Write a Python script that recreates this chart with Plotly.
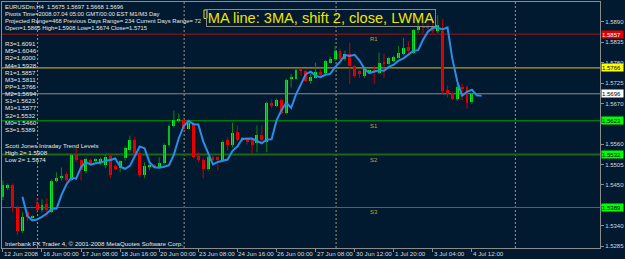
import plotly.graph_objects as go

# ---------------- data (EURUSDm, H4) ----------------
bar_index = list(range(97))
opens = [1.5417, 1.5441, 1.5449, 1.5387, 1.5325, 1.5376, 1.5363, 1.5401, 1.5382, 1.5398,
         1.5376, 1.5460, 1.5471, 1.5479, 1.5462, 1.5530, 1.5516, 1.5487, 1.5516, 1.5516,
         1.5508, 1.5503, 1.5527, 1.5500, 1.5495, 1.5522, 1.5543, 1.5570, 1.5535, 1.5476,
         1.5500, 1.5503, 1.5497, 1.5508, 1.5559, 1.5610, 1.5626, 1.5626, 1.5602, 1.5616,
         1.5527, 1.5516, 1.5492, 1.5524, 1.5524, 1.5516, 1.5570, 1.5557, 1.5592, 1.5573,
         1.5573, 1.5570, 1.5562, 1.5586, 1.5565, 1.5672, 1.5664, 1.5680, 1.5643, 1.5737,
         1.5737, 1.5764, 1.5758, 1.5731, 1.5739, 1.5756, 1.5753, 1.5780, 1.5791, 1.5812,
         1.5791, 1.5804, 1.5772, 1.5758, 1.5745, 1.5758, 1.5761, 1.5753, 1.5780, 1.5777,
         1.5785, 1.5793, 1.5804, 1.5823, 1.5807, 1.5869, 1.5879, 1.5879, 1.5879, 1.5866,
         1.5866, 1.5707, 1.5699, 1.5683, 1.5715, 1.5715, 1.5675]
highs = [1.5462, 1.5454, 1.5454, 1.5393, 1.5376, 1.5387, 1.5368, 1.5414, 1.5411, 1.5414,
         1.5465, 1.5484, 1.5497, 1.5484, 1.5535, 1.5549, 1.5519, 1.5524, 1.5522, 1.5522,
         1.5524, 1.5530, 1.5532, 1.5506, 1.5516, 1.5554, 1.5583, 1.5581, 1.5540, 1.5511,
         1.5511, 1.5506, 1.5524, 1.5562, 1.5613, 1.5651, 1.5643, 1.5632, 1.5621, 1.5618,
         1.5538, 1.5522, 1.5527, 1.5527, 1.5527, 1.5570, 1.5578, 1.5618, 1.5610, 1.5578,
         1.5578, 1.5575, 1.5610, 1.5610, 1.5675, 1.5680, 1.5683, 1.5683, 1.5737, 1.5750,
         1.5764, 1.5766, 1.5761, 1.5750, 1.5780, 1.5761, 1.5788, 1.5796, 1.5825, 1.5817,
         1.5812, 1.5834, 1.5774, 1.5761, 1.5766, 1.5761, 1.5772, 1.5807, 1.5804, 1.5796,
         1.5799, 1.5825, 1.5847, 1.5839, 1.5871, 1.5901, 1.5887, 1.5887, 1.5893, 1.5908,
         1.5898, 1.5718, 1.5702, 1.5723, 1.5723, 1.5718, 1.5697]
lows = [1.5409, 1.5436, 1.5376, 1.5315, 1.5320, 1.5352, 1.5358, 1.5374, 1.5376, 1.5363,
        1.5374, 1.5457, 1.5462, 1.5457, 1.5460, 1.5511, 1.5462, 1.5481, 1.5506, 1.5511,
        1.5503, 1.5495, 1.5468, 1.5489, 1.5484, 1.5516, 1.5538, 1.5530, 1.5471, 1.5468,
        1.5489, 1.5495, 1.5495, 1.5503, 1.5554, 1.5605, 1.5618, 1.5600, 1.5600, 1.5522,
        1.5511, 1.5468, 1.5489, 1.5516, 1.5489, 1.5511, 1.5543, 1.5551, 1.5567, 1.5567,
        1.5559, 1.5535, 1.5538, 1.5565, 1.5538, 1.5659, 1.5661, 1.5640, 1.5640, 1.5713,
        1.5734, 1.5745, 1.5729, 1.5723, 1.5737, 1.5739, 1.5745, 1.5777, 1.5785, 1.5788,
        1.5785, 1.5723, 1.5739, 1.5739, 1.5739, 1.5756, 1.5723, 1.5750, 1.5739, 1.5774,
        1.5782, 1.5791, 1.5799, 1.5807, 1.5804, 1.5860, 1.5860, 1.5866, 1.5860, 1.5860,
        1.5696, 1.5686, 1.5678, 1.5678, 1.5678, 1.5656, 1.5668]
closes = [1.5449, 1.5449, 1.5387, 1.5325, 1.5363, 1.5363, 1.5364, 1.5382, 1.5395, 1.5382,
          1.5460, 1.5468, 1.5473, 1.5462, 1.5530, 1.5516, 1.5489, 1.5519, 1.5511, 1.5517,
          1.5519, 1.5524, 1.5476, 1.5495, 1.5514, 1.5549, 1.5570, 1.5535, 1.5476, 1.5500,
          1.5501, 1.5497, 1.5508, 1.5559, 1.5610, 1.5624, 1.5627, 1.5602, 1.5616, 1.5524,
          1.5516, 1.5492, 1.5524, 1.5519, 1.5516, 1.5567, 1.5557, 1.5589, 1.5570, 1.5574,
          1.5565, 1.5557, 1.5586, 1.5570, 1.5672, 1.5664, 1.5678, 1.5643, 1.5734, 1.5738,
          1.5761, 1.5758, 1.5731, 1.5742, 1.5756, 1.5748, 1.5785, 1.5791, 1.5812, 1.5791,
          1.5804, 1.5772, 1.5745, 1.5750, 1.5764, 1.5759, 1.5756, 1.5780, 1.5777, 1.5793,
          1.5796, 1.5807, 1.5820, 1.5812, 1.5869, 1.5877, 1.5874, 1.5874, 1.5866, 1.5882,
          1.5704, 1.5696, 1.5683, 1.5715, 1.5710, 1.5672, 1.5696]

ma_period = 3
ma_shift = 2

tick_bars = [0, 8, 16, 24, 32, 40, 48, 56, 64, 72, 80, 88, 96]
tick_labels = ["12 Jun 2008", "16 Jun 00:00", "17 Jun 08:00", "18 Jun 16:00", "20 Jun 00:00",
               "23 Jun 08:00", "24 Jun 16:00", "26 Jun 00:00", "27 Jun 08:00", "30 Jun 12:00",
               "1 Jul 20:00", "3 Jul 04:00", "4 Jul 12:00"]
separator_bars = [7.1, 37.1, 68.2, 104.9]
price_ticks = [1.5285, 1.5340, 1.5395, 1.5450, 1.5505, 1.5560, 1.5615, 1.5670,
               1.5725, 1.5780, 1.5835, 1.5890]

pivot_names = ["R3", "M5", "R2", "M4", "R1", "M3", "PP", "M2", "S1", "M1", "S2", "M0", "S3"]
pivot_values = [1.6091, 1.6046, 1.6000, 1.5928, 1.5857, 1.5811, 1.5766, 1.5694,
                1.5623, 1.5577, 1.5532, 1.5460, 1.5389]

line_names = ["R1", "PP", "Bid", "S1", "S2", "S3"]
line_values = [1.5857, 1.5766, 1.5696, 1.5623, 1.5532, 1.5389]
line_colors = ["#a81414", "#b89a1c", "#8c8c8c", "#00a400", "#1e6612", "#00a000"]
line_widths = [1, 1.3, 1, 1, 2.2, 1.2]
box_bg = ["#e00000", "#ffff00", "#ffffff", "#00ff00", "#00ff00", "#00ff00"]
box_fg = ["#ffffff", "#000000", "#000000", "#000000", "#000000", "#000000"]
chart_labels = ["R1", "S1", "S2", "S3"]
chart_label_values = [1.5857, 1.5623, 1.5532, 1.5389]
chart_label_bar = 76

info_lines = [
    "EURUSDm,H4  1.5675 1.5697 1.5668 1.5696",
    "Pivots Time=2008.07.04 05:00 GMT/00:00 EST M1/M3 Day",
    "Projected Range=468 Previous Days Range= 234 Current Days Range= 72",
    "Open=1.5865 High=1.5908 Low=1.5674 Close=1.5715",
]
trend_lines = ["Scott Jones Intraday Trend Levels", "High 2= 1.5908", "Low 2= 1.5674"]
copyright_text = "Interbank FX Trader 4, \u00a9 2001-2008 MetaQuotes Software Corp."
ma_title = "MA line: 3MA, shift 2, close, LWMA"

# ---------------- geometry helpers ----------------
W, H = 625, 259
ML, MR, MT, MB = 1, 23, 1, 11
PW = W - ML - MR
PH = H - MT - MB


def xp(px):
    return (px - ML) / PW


def yp(py):
    return (H - MB - py) / PH


BAR_PX = 4.91
X0 = -(1.9 - ML) / BAR_PX
X1 = X0 + PW / BAR_PX
Y_TOP, Y_BOT = 1.59438, 1.52796

FONT = "Liberation Sans, Arial, sans-serif"
BG = "#021a2f"

fig = go.Figure()

# wicks
for up in (True, False):
    xs, ys = [], []
    for i, o, h, l, c in zip(bar_index, opens, highs, lows, closes):
        if (c >= o) == up:
            xs += [i, i, None]
            ys += [l, h, None]
    fig.add_trace(go.Scatter(x=xs, y=ys, mode="lines", hoverinfo="skip",
                             line=dict(color="#0c8a0c" if up else "#c80000", width=1),
                             showlegend=False))

# bodies
bases, heights, colors = [], [], []
for o, c in zip(opens, closes):
    lo = min(o, c)
    hgt = max(abs(c - o), 0.0003)
    if abs(c - o) < 0.0003:
        lo = (o + c) / 2 - 0.00015
    bases.append(lo)
    heights.append(hgt)
    colors.append("#00f02a" if c >= o else "#f00000")
fig.add_trace(go.Bar(x=bar_index, y=heights, base=bases, width=0.6,
                     marker=dict(color=colors, line=dict(width=0)),
                     hoverinfo="skip", showlegend=False))

# LWMA(3) of close, shifted 2 bars
w = list(range(1, ma_period + 1))
ma_x, ma_y = [], []
for i in range(ma_period - 1, len(closes)):
    win = closes[i - ma_period + 1:i + 1]
    ma_x.append(i + ma_shift)
    ma_y.append(sum(a * b for a, b in zip(win, w)) / sum(w))
fig.add_trace(go.Scatter(x=ma_x, y=ma_y, mode="lines", hoverinfo="skip",
                         line=dict(color="#2b8ee6", width=2), showlegend=False))

shapes = []
# period separators
for sb in separator_bars:
    shapes.append(dict(type="line", xref="x", yref="paper", x0=sb, x1=sb, y0=0, y1=1,
                       line=dict(color="#a09684", width=1, dash="2px,2px"), layer="below"))
# pivot lines
for v, col, lw in zip(line_values, line_colors, line_widths):
    shapes.append(dict(type="line", xref="paper", yref="y", x0=0, x1=1, y0=v, y1=v,
                       line=dict(color=col, width=lw), layer="below"))
# small anchor marker of the text label
shapes.append(dict(type="rect", xref="paper", yref="paper", x0=xp(204), x1=xp(207),
                   y0=yp(17.5), y1=yp(9), line=dict(color="#e8e000", width=1)))

annotations = []
# price boxes on the right axis
for v, bg, fg in zip(line_values, box_bg, box_fg):
    annotations.append(dict(xref="paper", yref="y", x=1, y=v, xanchor="left", yanchor="middle",
                            xshift=1, text=f"{v:.4f}", showarrow=False, bgcolor=bg,
                            font=dict(family=FONT, size=6, color=fg), width=21, height=7,
                            align="left", borderpad=0))
# level captions on chart
for name, v in zip(chart_labels, chart_label_values):
    annotations.append(dict(xref="x", yref="y", x=chart_label_bar, y=v, yshift=-5,
                            text=name, showarrow=False,
                            font=dict(family=FONT, size=6, color="#b8a43c")))
# time labels
for b, t in zip(tick_bars, tick_labels):
    annotations.append(dict(xref="x", yref="paper", x=b, y=0, xanchor="left", yanchor="top",
                            xshift=0, yshift=-1, text=t, showarrow=False, borderpad=0,
                            font=dict(family=FONT, size=6.2, color="#d8d8d8")))
# info text
head_font = dict(family=FONT, size=5.85, color="#e8e8e8")
txt_font = dict(family=FONT, size=6.2, color="#e8e8e8")
for k, t in enumerate(info_lines):
    annotations.append(dict(xref="paper", yref="paper", x=xp(3), y=yp(6 + 7.1 * k),
                            xanchor="left", yanchor="middle", text=t, showarrow=False,
                            borderpad=0, font=head_font))
for k, (n, v) in enumerate(zip(pivot_names, pivot_values)):
    annotations.append(dict(xref="paper", yref="paper", x=xp(3), y=yp(42.8 + 7.18 * k),
                            xanchor="left", yanchor="middle", text=f"{n}={v:.4f}",
                            showarrow=False, borderpad=0, font=txt_font))
for k, t in enumerate(trend_lines):
    annotations.append(dict(xref="paper", yref="paper", x=xp(3), y=yp(145 + 7.2 * k),
                            xanchor="left", yanchor="middle", text=t, showarrow=False,
                            borderpad=0, font=txt_font))
annotations.append(dict(xref="paper", yref="paper", x=xp(3), y=yp(243), xanchor="left",
                        yanchor="middle", text=copyright_text, showarrow=False, borderpad=0,
                        font=txt_font))
# MA title box
annotations.append(dict(xref="paper", yref="paper", x=xp(321.5), y=yp(17), xanchor="center",
                        yanchor="middle", text=ma_title, showarrow=False, width=228, height=16,
                        bordercolor="#8a8a8a", borderwidth=1, borderpad=0,
                        font=dict(family=FONT, size=14.6, color="#f0e400")))

# tick labels hidden behind the price boxes (as in the reference)
covered = set()
for t in price_ticks:
    for v in line_values:
        if abs(t - v) < 0.0012:
            covered.add(t)
tick_text = ["" if t in covered else f"{t:.4f}" for t in price_ticks]

fig.update_layout(
    width=W, height=H,
    margin=dict(l=ML, r=MR, t=MT, b=MB, pad=0),
    paper_bgcolor=BG, plot_bgcolor=BG,
    showlegend=False, bargap=0,
    xaxis=dict(range=[X0, X1], showgrid=False, zeroline=False, showline=True, mirror=True,
               linecolor="#8c8c8c", linewidth=1, ticks="outside", ticklen=3,
               tickcolor="#8c8c8c", tickvals=tick_bars, showticklabels=False, fixedrange=True),
    yaxis=dict(range=[Y_BOT, Y_TOP], side="right", showgrid=False, zeroline=False,
               showline=True, mirror=True, linecolor="#8c8c8c", linewidth=1,
               ticks="outside", ticklen=3, tickcolor="#8c8c8c",
               tickvals=price_ticks, ticktext=tick_text,
               tickfont=dict(family=FONT, size=6, color="#d8d8d8"), fixedrange=True),
    shapes=shapes, annotations=annotations,
)

fig.write_html("out.html", config={"displayModeBar": False})
